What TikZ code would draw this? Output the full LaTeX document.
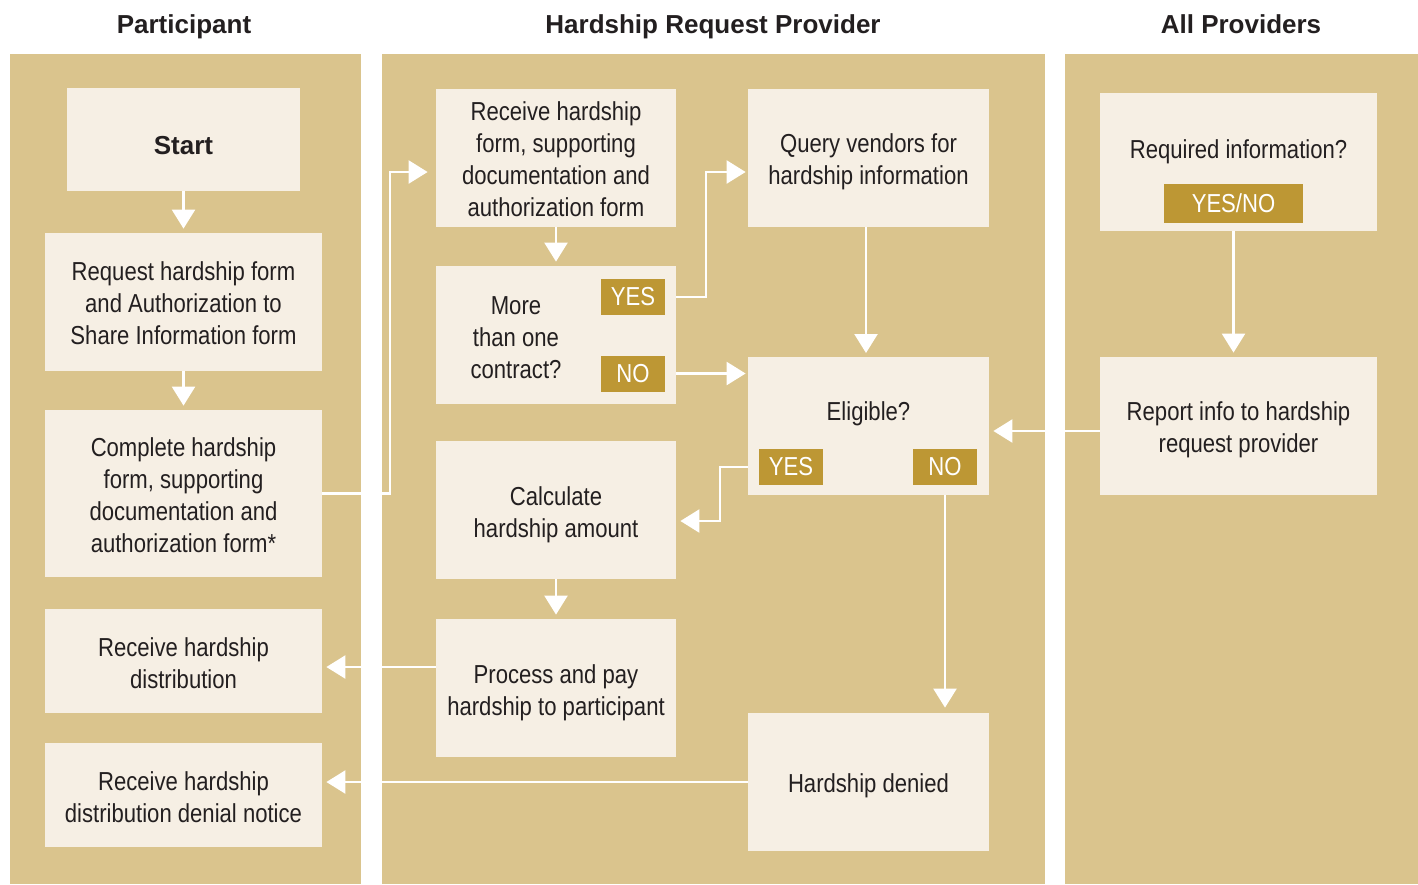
\documentclass[tikz,border=0pt]{standalone}
\usepackage{fontspec}
\setmainfont{Liberation Sans}
\newfontfamily\condfont{Liberation Sans}[FakeStretch=0.85]
\usetikzlibrary{arrows.meta}

\definecolor{lanefill}{HTML}{DAC48D}
\definecolor{boxfill}{HTML}{F6EFE4}
\definecolor{tagfill}{HTML}{BD9734}
\definecolor{inktext}{HTML}{231F20}

\begin{document}
\begin{tikzpicture}[
  x = 0.5pt, y = -0.5pt,
  lane/.style = {fill = lanefill, draw = none},
  head/.style = {
    anchor = base,
    font = \fontsize{13}{16}\selectfont\bfseries,
    text = inktext,
  },
  box/.style = {
    shape = rectangle,
    fill = boxfill,
    draw = none,
    inner sep = 0pt,
  },
  boxtext/.style = {
    align = center,
    inner sep = 0pt,
    text = inktext,
    font = \condfont\fontsize{13}{16}\selectfont,
  },
  tag/.style = {
    shape = rectangle,
    fill = tagfill,
    text = white,
    inner sep = 0pt,
    minimum height = 18pt,
    font = \condfont\fontsize{13}{16}\selectfont,
  },
  flow/.style = {
    draw = white,
    line width = 1.2pt,
    -{Triangle[length = 9.5pt, width = 11.5pt]},
  }
]
  \useasboundingbox (0, 0) rectangle (1418, 884);

  % swim lanes
  \fill[lane] (10, 54) rectangle (361, 884);
  \fill[lane] (382, 54) rectangle (1045, 884);
  \fill[lane] (1065, 54) rectangle (1418, 884);

  \node[head] (hpart) at (184, 33) {Participant};
  \node[head] (hprov) at (713, 33) {Hardship Request Provider};
  \node[head] (hall) at (1241, 33) {All Providers};

  % participant
  \node[box, minimum width = 116.5pt, minimum height = 51.5pt,
    label = {[boxtext, yshift = -3pt, font = \fontsize{13}{16}\selectfont\bfseries]center:Start}]
    (start) at (183.5, 139.5) {};
  \node[box, minimum width = 138.5pt, minimum height = 69pt,
    label = {[boxtext, yshift = -0.5pt]center:Request hardship form\\and Authorization to\\Share Information form}]
    (request) at (183.5, 302) {};
  \node[box, minimum width = 138.5pt, minimum height = 83.5pt,
    label = {[boxtext, yshift = -1pt]center:Complete hardship\\form, supporting\\documentation and\\authorization form*}]
    (complete) at (183.5, 493.5) {};
  \node[box, minimum width = 138.5pt, minimum height = 52pt,
    label = {[boxtext, yshift = -1pt]center:Receive hardship\\distribution}]
    (recvdist) at (183.5, 661) {};
  \node[box, minimum width = 138.5pt, minimum height = 52pt,
    label = {[boxtext, yshift = -1pt]center:Receive hardship\\distribution denial notice}]
    (recvdeny) at (183.5, 795) {};

  % hardship request provider
  \node[box, minimum width = 120pt, minimum height = 69pt,
    label = {[boxtext, yshift = -0.5pt]center:Receive hardship\\form, supporting\\documentation and\\authorization form}]
    (recvform) at (556, 158) {};
  \node[box, minimum width = 120pt, minimum height = 69pt,
    label = {[boxtext, xshift = -20pt, yshift = -1.5pt]center:More\\than one\\contract?}]
    (more) at (556, 335) {};
  \node[tag, minimum width = 32pt] (yesa) at (633, 297) {YES};
  \node[tag, minimum width = 32pt] (noa) at (633, 373.5) {NO};
  \node[box, minimum width = 120pt, minimum height = 69pt,
    label = {[boxtext, yshift = -2.5pt]center:Calculate\\hardship amount}]
    (calc) at (556, 510) {};
  \node[box, minimum width = 120pt, minimum height = 69pt,
    label = {[boxtext, yshift = -2.5pt]center:Process and pay\\hardship to participant}]
    (process) at (556, 688) {};

  \node[box, minimum width = 120.5pt, minimum height = 69pt,
    label = {[boxtext, yshift = -2pt]center:Query vendors for\\hardship information}]
    (query) at (868.5, 158) {};
  \node[box, minimum width = 120.5pt, minimum height = 69pt,
    label = {[boxtext, yshift = 6pt]center:Eligible?}]
    (elig) at (868.5, 426) {};
  \node[tag, minimum width = 32pt] (yesb) at (791, 467) {YES};
  \node[tag, minimum width = 32pt] (nob) at (945, 467) {NO};
  \node[box, minimum width = 120.5pt, minimum height = 69pt,
    label = {[boxtext, yshift = -2pt]center:Hardship denied}]
    (denied) at (868.5, 782) {};

  % all providers
  \node[box, minimum width = 138.5pt, minimum height = 69pt,
    label = {[boxtext, yshift = 5pt]center:Required information?}]
    (req) at (1238.5, 162) {};
  \node[tag, minimum width = 69.5pt, minimum height = 19.5pt] (yn) at (1233.5, 203.5) {YES/NO};
  \node[box, minimum width = 138.5pt, minimum height = 69pt,
    label = {[boxtext, yshift = -2pt]center:Report info to hardship\\request provider}]
    (report) at (1238.5, 426) {};

  % connectors
  \begin{scope}[every path/.style = {flow}]
    \draw[shorten > = 2pt] (start) -- (request);
    \draw[shorten > = 2pt] (request) -- (complete);
    \draw[shorten > = 4pt] (complete.east) -- (390, 493.5) |- ([yshift = -7pt]recvform.west);
    \draw[shorten > = 2pt] (recvform) -- (more);
    \draw[shorten > = 1pt] (more.east |- yesa) -- (706, 297) |- (query.west |- 0, 172);
    \draw[shorten > = 1pt] (more.east |- noa) -- (elig.west |- noa);
    \draw[shorten > = 2pt] (866, 227) -- (866, 357);
    \draw[shorten > = 2pt] (elig.west |- yesb) -- (720, 467) |- ([yshift = -5.5pt]calc.east);
    \draw[shorten > = 2pt] (calc) -- (process);
    \draw[shorten > = 2.5pt] (nob |- elig.south) -- (nob |- denied.north);
    \draw[shorten > = 2pt] ([yshift = -3pt]process.west |- recvdist) -- ([yshift = -3pt]recvdist.east);
    \draw[shorten > = 2pt] (denied.west) -- (denied.west -| recvdeny.east);
    \draw[shorten > = 2pt] (yn |- req.south) -- (yn |- report.north);
    \draw[shorten > = 2pt] ([yshift = -2.5pt]report.west) -- ([yshift = -2.5pt]elig.east);
  \end{scope}
\end{tikzpicture}
\end{document}
